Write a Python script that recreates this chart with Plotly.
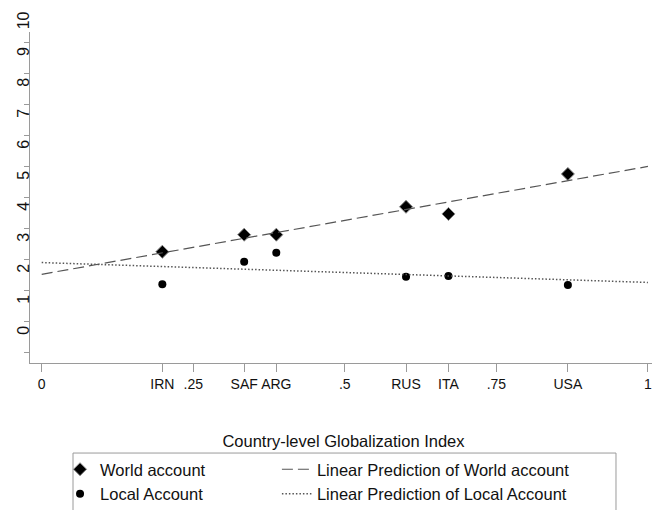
import numpy as np
import plotly.graph_objects as go

# ---- data ----
countries = ["IRN", "SAF", "ARG", "RUS", "ITA", "USA"]
globalization = [0.199, 0.334, 0.387, 0.601, 0.671, 0.868]
world_account = [3.26, 3.81, 3.81, 4.71, 4.48, 5.77]
local_account = [2.21, 2.94, 3.23, 2.45, 2.48, 2.19]

num_tickvals = [0, 0.25, 0.5, 0.75, 1]
num_ticktext = ["0", ".25", ".5", ".75", "1"]
y_tickvals = list(range(0, 11))
fit_x = [0, 1]

# linear predictions (OLS fits as in the original)
bw = np.polyfit(globalization, world_account, 1)
bl = np.polyfit(globalization, local_account, 1)
world_fit = np.polyval(bw, fit_x)
local_fit = np.polyval(bl, fit_x)

# combined x ticks: numeric plus country labels
pairs = sorted(list(zip(num_tickvals, num_ticktext)) + list(zip(globalization, countries)))
x_tickvals = [p[0] for p in pairs]
x_ticktext = [p[1] for p in pairs]

NARROW = "Liberation Sans Narrow, Arial Narrow, Liberation Sans, Arial, sans-serif"
SANS = "Liberation Sans, Arial, Helvetica, sans-serif"

fig = go.Figure()
fig.add_trace(go.Scatter(
    x=globalization, y=world_account, mode="markers", name="World account",
    marker=dict(symbol="diamond", size=10, color="#000000",
                line=dict(color="#888888", width=1)),
    legend="legend", legendgroup="w",
))
fig.add_trace(go.Scatter(
    x=globalization, y=local_account, mode="markers", name="Local Account",
    marker=dict(symbol="circle", size=8, color="#000000"),
    legend="legend", legendgroup="l",
))
fig.add_trace(go.Scatter(
    x=fit_x, y=world_fit, mode="lines", name="Linear Prediction of World account",
    line=dict(color="#555555", width=1.2, dash="11px,5px"),
    legend="legend2", legendgroup="wf",
))
fig.add_trace(go.Scatter(
    x=fit_x, y=local_fit, mode="lines", name="Linear Prediction of Local Account",
    line=dict(color="#555555", width=1.5, dash="1.5px,2px"),
    legend="legend2", legendgroup="lf",
))

legend_common = dict(
    orientation="v", y=-0.2689, xanchor="left", yanchor="top",
    font=dict(family=SANS, size=16.5, color="#111111"),
    bgcolor="rgba(0,0,0,0)", borderwidth=0, itemwidth=30, tracegroupgap=0,
)

# page has an 8px body margin, so the figure is 652x502 placed at (8, 8)
fig.update_layout(
    width=652, height=502,
    margin=dict(l=22, r=3, t=24, b=147, autoexpand=False),
    paper_bgcolor="white", plot_bgcolor="white",
    font=dict(family=SANS, color="#111111"),
    showlegend=True,
    legend=dict(x=0.0479, **legend_common),
    legend2=dict(x=0.3938, **legend_common),
    xaxis=dict(
        range=[-0.0193, 1.015], showgrid=False, zeroline=False, automargin=False,
        showline=True, linecolor="#9a9a9a", linewidth=1,
        ticks="outside", ticklen=8, tickcolor="#9a9a9a", tickwidth=1,
        tickmode="array", tickvals=x_tickvals, ticktext=x_ticktext, tickangle=0,
        tickfont=dict(family=NARROW, size=14, color="#111111"),
        title=dict(text="Country-level Globalization Index",
                   font=dict(family=SANS, size=16.5, color="#111111"), standoff=44),
    ),
    yaxis=dict(
        range=[-0.33, 10.35], showgrid=False, zeroline=False, automargin=False,
        showline=True, linecolor="#9a9a9a", linewidth=1,
        ticks="outside", ticklen=5, tickcolor="#9a9a9a", tickwidth=1,
        tickmode="array", tickvals=y_tickvals, ticktext=[str(v) for v in y_tickvals],
        tickangle=-90, ticklabelshift=-20, ticklabelstandoff=-11,
        tickfont=dict(family=SANS, size=16, color="#111111"),
    ),
    shapes=[dict(type="rect", xref="paper", yref="paper",
                 x0=0.0686, x1=0.9346, y0=-0.272, y1=-0.46,
                 line=dict(color="#9a9a9a", width=1), fillcolor="rgba(0,0,0,0)")],
)

fig.write_html("out.html")
